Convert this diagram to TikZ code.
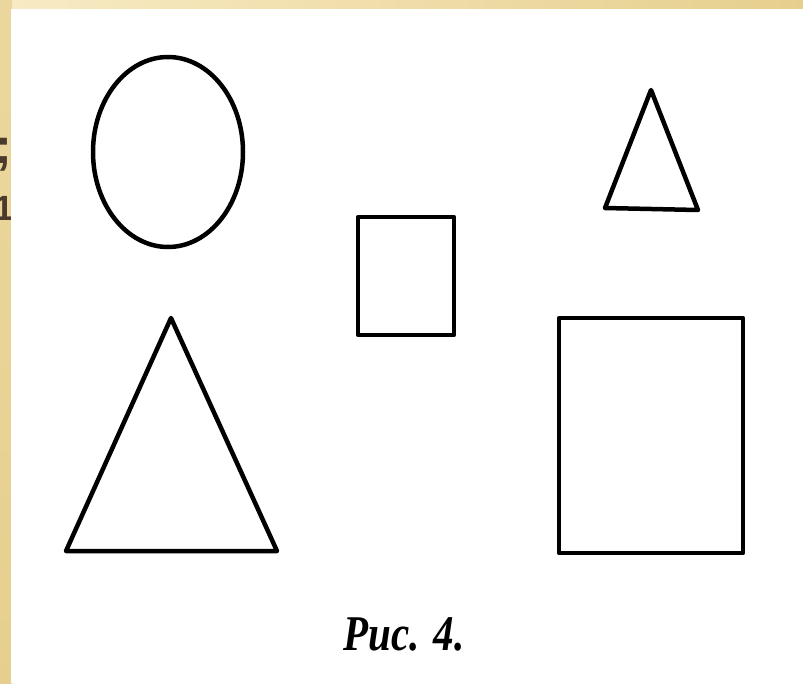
\documentclass[tikz,border=0pt]{standalone}
\usepackage{fontspec}
\setmainfont{Liberation Serif}
\newfontfamily\capfont{Liberation Serif}
\newfontfamily\sidefont{Liberation Sans}
\usetikzlibrary{shapes.geometric}
\definecolor{beigeA}{HTML}{F8EBC4}
\definecolor{beigeB}{HTML}{E6CF8E}
\definecolor{sidetext}{HTML}{4A3A2E}
\begin{document}
\begin{tikzpicture}[x=1pt,y=-1pt,
  shape line/.style={line width=4.5pt,line join=round,black},
  side text/.style={text=sidetext,anchor=base west,inner sep=0pt}]
\useasboundingbox (0,0) rectangle (803,683);
% beige frame
\shade[left color=beigeA,right color=beigeB] (0,0) rectangle (803,10);
\shade[top color=beigeB!70!beigeA,bottom color=beigeB] (0,0) rectangle (12,683);
% cut-off side text
\node[side text,font=\sidefont\bfseries\fontsize{50}{50}\selectfont] (semi) at (-5,163) {;};
\node[side text,font=\sidefont\bfseries\fontsize{35}{35}\selectfont] (one) at (-6,220) {1};
% white panel
\fill[white] (11,9) rectangle (803,683);
% shapes
\draw[shape line] (168,152) ellipse [x radius=75, y radius=95];
\draw[shape line] (358,217) rectangle (454,335);
\draw[shape line] (651,90) -- (698,210) -- (605,208) -- cycle;
\draw[shape line] (171,318) -- (277,551) -- (66,551) -- cycle;
\draw[shape line] (559,318) rectangle (743,553);
% caption
\node[inner sep=0pt] (cap) at (404,634) {\scalebox{0.82}[1]{\capfont\itshape\bfseries\fontsize{50}{50}\selectfont Рис.\hspace{0.35em}4.}};
\end{tikzpicture}
\end{document}
